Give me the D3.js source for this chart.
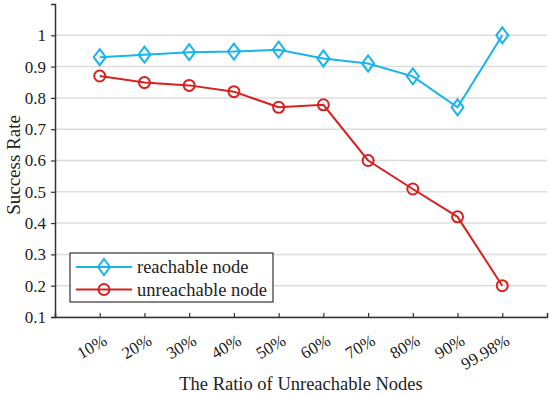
<!DOCTYPE html>
<html lang="en">
<head>
<meta charset="utf-8">
<title>Success rate</title>
<script src="https://cdn.jsdelivr.net/npm/d3@7"></script>
<style>
    body { margin: 0; background: #fff; }
    text { font-family: "Liberation Serif", "Times New Roman", serif; fill: #222; }
</style>
</head>
<body>
<div id="chart"></div>
<script type="text/javascript">
var ratios = ["10%", "20%", "30%", "40%", "50%", "60%", "70%", "80%", "90%", "99.98%"];
var reachable = [0.93, 0.938, 0.946, 0.948, 0.954, 0.926, 0.91, 0.869, 0.77, 1.0];
var unreachable = [0.87, 0.849, 0.84, 0.82, 0.77, 0.778, 0.6, 0.509, 0.42, 0.2];
var yTicks = [0.1, 0.2, 0.3, 0.4, 0.5, 0.6, 0.7, 0.8, 0.9, 1];

var width = 550, height = 394;
var margin = {left: 55, right: 3, top: 4, bottom: 77};
var serif = "'Liberation Serif', 'Times New Roman', serif";

var svg = d3.select("#chart").append("svg")
    .attr("width", width)
    .attr("height", height);

var x = d3.scaleLinear()
    .domain([0, ratios.length + 1])
    .range([margin.left, width - margin.right]);

var y = d3.scaleLinear()
    .domain([0.1, 1.1])
    .range([height - margin.bottom, margin.top]);

// grid
svg.append("g")
    .selectAll("line")
    .data(yTicks)
    .enter().append("line")
    .attr("x1", margin.left)
    .attr("x2", width - margin.right)
    .attr("y1", function(d) { return y(d); })
    .attr("y2", function(d) { return y(d); })
    .attr("stroke", "#dcdcdc")
    .attr("stroke-width", 1.5);

// y axis
var yAxis = svg.append("g")
    .attr("transform", "translate(" + margin.left + ",0)")
    .call(d3.axisLeft(y).tickValues(yTicks).tickSize(4).tickPadding(5)
        .tickFormat(function(d) { return d === 1 ? "1" : d3.format(".1f")(d); }));
yAxis.select(".domain").attr("stroke", "#333").attr("stroke-width", 1.5);
yAxis.selectAll(".tick line").attr("stroke", "#333").attr("stroke-width", 1.2);
yAxis.selectAll(".tick text")
    .style("font-family", serif)
    .style("font-size", "17px")
    .attr("fill", "#222");

// x axis
var xAxis = svg.append("g")
    .attr("transform", "translate(0," + (height - margin.bottom) + ")")
    .call(d3.axisBottom(x).tickValues(d3.range(1, ratios.length + 1)).tickSize(-4)
        .tickFormat(function(d) { return ratios[d - 1]; }));
xAxis.select(".domain").attr("stroke", "#333").attr("stroke-width", 1.5);
xAxis.selectAll(".tick line").attr("stroke", "#333").attr("stroke-width", 1.2);
xAxis.selectAll(".tick text")
    .style("font-family", serif)
    .style("font-size", "17px")
    .attr("fill", "#222")
    .attr("text-anchor", "end")
    .attr("dy", null)
    .attr("y", 0)
    .attr("transform", "translate(8,27) rotate(-30)");

// titles
svg.append("text")
    .attr("x", (margin.left + width - margin.right) / 2)
    .attr("y", 390)
    .attr("text-anchor", "middle")
    .style("font-size", "18.5px")
    .text("The Ratio of Unreachable Nodes");

svg.append("text")
    .attr("transform", "translate(20,165) rotate(-90)")
    .attr("text-anchor", "middle")
    .style("font-size", "19px")
    .text("Success Rate");

var series = [
    {name: "reachable node", values: reachable, color: "#18b4ee", marker: "diamond"},
    {name: "unreachable node", values: unreachable, color: "#d8211f", marker: "circle"}
];

var line = d3.line()
    .x(function(d, i) { return x(i + 1); })
    .y(function(d) { return y(d); });

function drawMarker(g, type, color) {
    if (type === "diamond") {
        g.append("path")
            .attr("d", "M0,-8L6,0L0,8L-6,0Z")
            .attr("fill", "none")
            .attr("stroke", color)
            .attr("stroke-width", 2);
    } else {
        g.append("circle")
            .attr("r", 5.5)
            .attr("fill", "none")
            .attr("stroke", color)
            .attr("stroke-width", 2);
    }
}

series.forEach(function(s) {
    svg.append("path")
        .datum(s.values)
        .attr("d", line)
        .attr("fill", "none")
        .attr("stroke", s.color)
        .attr("stroke-width", 2);

    s.values.forEach(function(v, i) {
        var g = svg.append("g")
            .attr("transform", "translate(" + x(i + 1) + "," + y(v) + ")");
        drawMarker(g, s.marker, s.color);
    });
});

// legend
var legend = svg.append("g").attr("transform", "translate(70,253)");
legend.append("rect")
    .attr("width", 203)
    .attr("height", 49)
    .attr("fill", "#fff")
    .attr("stroke", "#333")
    .attr("stroke-width", 1.2);

series.forEach(function(s, i) {
    var row = legend.append("g").attr("transform", "translate(0," + (14 + i * 22.5) + ")");
    row.append("line")
        .attr("x1", 6).attr("x2", 62)
        .attr("stroke", s.color)
        .attr("stroke-width", 2);
    drawMarker(row.append("g").attr("transform", "translate(34,0)"), s.marker, s.color);
    row.append("text")
        .attr("x", 67)
        .attr("dy", "0.35em")
        .style("font-size", "18.5px")
        .text(s.name);
});
</script>
</body>
</html>
